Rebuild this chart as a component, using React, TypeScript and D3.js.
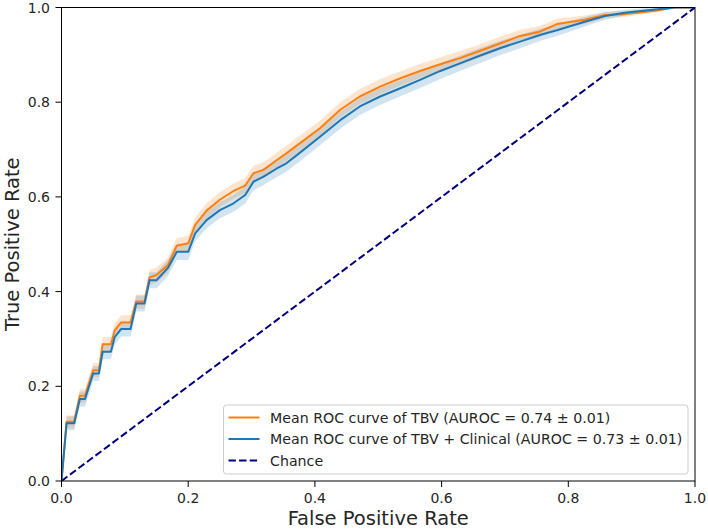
import React from "react";
import * as d3 from "d3";

if (typeof document !== "undefined") {
  document.body.style.margin = "0";
}

const fpr = [0, 0.008, 0.02, 0.029, 0.037, 0.05, 0.059, 0.065, 0.078, 0.084, 0.094, 0.109, 0.118, 0.131, 0.139, 0.15, 0.168, 0.182, 0.2, 0.211, 0.229, 0.25, 0.271, 0.29, 0.303, 0.319, 0.34, 0.355, 0.376, 0.408, 0.44, 0.471, 0.503, 0.534, 0.566, 0.598, 0.629, 0.66, 0.692, 0.724, 0.755, 0.782, 0.826, 0.858, 0.889, 0.937, 0.968, 1.0];
const tprTBV = [0, 0.125, 0.125, 0.18, 0.18, 0.234, 0.234, 0.289, 0.289, 0.318, 0.335, 0.335, 0.379, 0.379, 0.43, 0.435, 0.456, 0.497, 0.502, 0.541, 0.571, 0.594, 0.612, 0.624, 0.65, 0.657, 0.678, 0.692, 0.713, 0.745, 0.784, 0.812, 0.833, 0.85, 0.866, 0.88, 0.893, 0.908, 0.924, 0.94, 0.949, 0.965, 0.974, 0.984, 0.986, 0.993, 1.0, 1.0];
const tprTBVClinical = [0, 0.122, 0.122, 0.173, 0.173, 0.227, 0.227, 0.273, 0.273, 0.304, 0.321, 0.321, 0.375, 0.375, 0.424, 0.424, 0.45, 0.484, 0.484, 0.523, 0.551, 0.572, 0.586, 0.604, 0.632, 0.643, 0.66, 0.671, 0.693, 0.727, 0.762, 0.791, 0.812, 0.829, 0.847, 0.866, 0.882, 0.898, 0.914, 0.928, 0.942, 0.952, 0.97, 0.982, 0.989, 0.996, 1.0, 1.0];
const stdTBV = [0, 0.014, 0.014, 0.015, 0.015, 0.015, 0.015, 0.015, 0.015, 0.015, 0.015, 0.015, 0.015, 0.015, 0.016, 0.016, 0.016, 0.016, 0.016, 0.016, 0.016, 0.016, 0.016, 0.016, 0.016, 0.016, 0.016, 0.016, 0.016, 0.016, 0.016, 0.016, 0.016, 0.015, 0.015, 0.015, 0.015, 0.014, 0.014, 0.013, 0.012, 0.011, 0.009, 0.007, 0.006, 0.004, 0.001, 0];
const stdTBVClinical = [0, 0.015, 0.015, 0.016, 0.016, 0.016, 0.016, 0.016, 0.016, 0.016, 0.016, 0.016, 0.017, 0.017, 0.017, 0.017, 0.017, 0.017, 0.017, 0.017, 0.017, 0.017, 0.018, 0.018, 0.018, 0.018, 0.018, 0.018, 0.018, 0.018, 0.018, 0.018, 0.018, 0.017, 0.017, 0.017, 0.016, 0.016, 0.015, 0.014, 0.013, 0.012, 0.01, 0.008, 0.006, 0.004, 0.001, 0];
const ticks = [0, 0.2, 0.4, 0.6, 0.8, 1.0];
const legendLabels = [
  "Mean ROC curve of TBV (AUROC = 0.74 \u00b1 0.01)",
  "Mean ROC curve of TBV + Clinical (AUROC = 0.73 \u00b1 0.01)",
  "Chance",
];

const W = 708;
const H = 529;
const L = 61.5;
const R = 695;
const T = 7.5;
const B = 481;
const FONT = "DejaVu Sans, sans-serif";

export default function App() {
  const x = d3.scaleLinear().domain([0, 1]).range([L, R]);
  const y = d3.scaleLinear().domain([0, 1]).range([B, T]);
  const idx = fpr.map((_, i) => i);
  const line = (arr: number[]) =>
    d3.line<number>().x((i) => x(fpr[i])).y((i) => y(arr[i]))(idx) || "";
  const band = (arr: number[], sd: number[]) =>
    d3
      .area<number>()
      .x((i) => x(fpr[i]))
      .y0((i) => y(Math.max(0, arr[i] - sd[i])))
      .y1((i) => y(Math.min(1, arr[i] + sd[i])))(idx) || "";
  const orange = "#ff7f0e";
  const blue = "#1f77b4";
  const navy = "#000080";
  const legX = 223.5;
  const legY = 405;
  const legW = 688 - legX;
  const legH = 474 - legY;
  const rows = [417.5, 439, 460.5];
  const colors = [orange, blue, navy];
  return (
    <svg width={W} height={H} style={{ display: "block", background: "#fff" }}>
      <defs>
        <clipPath id="plotclip">
          <rect x={L} y={T} width={R - L} height={B - T} />
        </clipPath>
      </defs>
      <g clipPath="url(#plotclip)">
        <path d={band(tprTBV, stdTBV)} fill={orange} fillOpacity={0.2} />
        <path d={band(tprTBVClinical, stdTBVClinical)} fill={blue} fillOpacity={0.2} />
        <path d={line(tprTBV)} fill="none" stroke={orange} strokeWidth={2} strokeLinejoin="round" />
        <path d={line(tprTBVClinical)} fill="none" stroke={blue} strokeWidth={2} strokeLinejoin="round" />
        <line x1={x(0)} y1={y(0)} x2={x(1)} y2={y(1)} stroke={navy} strokeWidth={2} strokeDasharray="7.4 3.2" />
      </g>
      <rect x={L} y={T} width={R - L} height={B - T} fill="none" stroke="#000" strokeWidth={1} />
      {ticks.map((t) => (
        <g key={"x" + t}>
          <line x1={x(t)} x2={x(t)} y1={B} y2={B + 6} stroke="#000" strokeWidth={1} />
          <text x={x(t)} y={502.5} textAnchor="middle" fontFamily={FONT} fontSize={14} fill="#262626">
            {t.toFixed(1)}
          </text>
        </g>
      ))}
      {ticks.map((t) => (
        <g key={"y" + t}>
          <line x1={L - 6} x2={L} y1={y(t)} y2={y(t)} stroke="#000" strokeWidth={1} />
          <text x={L - 11.5} y={y(t)} dy="0.36em" textAnchor="end" fontFamily={FONT} fontSize={14} fill="#262626">
            {t.toFixed(1)}
          </text>
        </g>
      ))}
      <text x={(L + R) / 2} y={525} textAnchor="middle" fontFamily={FONT} fontSize={19.5} fill="#262626">
        False Positive Rate
      </text>
      <text
        transform={`translate(18.5,${(T + B) / 2}) rotate(-90)`}
        textAnchor="middle"
        fontFamily={FONT}
        fontSize={19.5}
        fill="#262626"
      >
        True Positive Rate
      </text>
      <rect x={legX} y={legY} width={legW} height={legH} rx={3} fill="#fff" fillOpacity={0.8} stroke="#cccccc" strokeWidth={1} />
      {legendLabels.map((lab, i) => (
        <g key={lab}>
          <line
            x1={228.5}
            x2={259.5}
            y1={rows[i]}
            y2={rows[i]}
            stroke={colors[i]}
            strokeWidth={2}
            strokeDasharray={i === 2 ? "7.4 3.2" : undefined}
          />
          <text x={270} y={rows[i]} dy="0.36em" fontFamily={FONT} fontSize={14.2} fill="#262626">
            {lab}
          </text>
        </g>
      ))}
    </svg>
  );
}
